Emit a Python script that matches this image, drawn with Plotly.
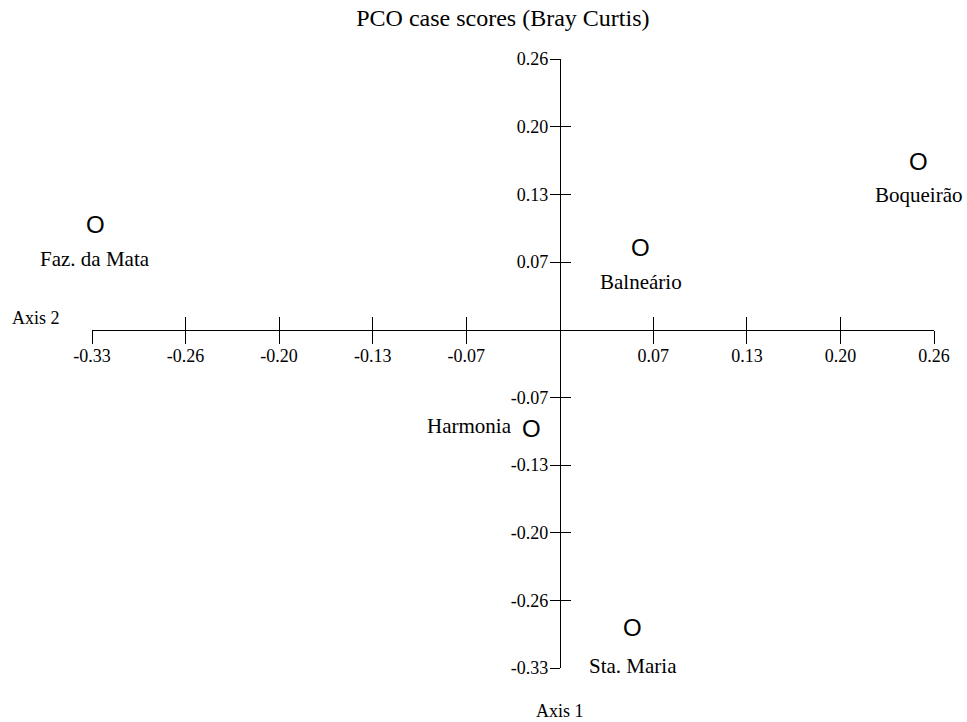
import plotly.graph_objects as go

# ---- data ----
sites = ["Faz. da Mata", "Boqueirão", "Balneário", "Harmonia", "Sta. Maria"]
x_scores = [-0.3252, 0.2508, 0.0566, -0.0197, 0.0510]
y_scores = [0.1046, 0.1659, 0.0820, -0.0928, -0.2856]

tick_step = 0.0655
tick_multiples = [-5, -4, -3, -2, -1, 1, 2, 3, 4]
tick_labels = ["-0.33", "-0.26", "-0.20", "-0.13", "-0.07", "0.07", "0.13", "0.20", "0.26"]
title_text = "PCO case scores (Bray Curtis)"
horizontal_axis_title = "Axis 2"
vertical_axis_title = "Axis 1"

# ---- derived ----
tick_values = [m * tick_step for m in tick_multiples]
axis_min = tick_multiples[0] * tick_step
axis_max = tick_multiples[-1] * tick_step
zero_frac = (0 - axis_min) / (axis_max - axis_min)

SERIF = "Liberation Serif"
tickfont = dict(family=SERIF, size=18, color="black")

fig = go.Figure()

# data points (carried by the trace; drawn as "O" glyphs below)
fig.add_trace(go.Scatter(
    x=x_scores, y=y_scores, mode="markers",
    marker=dict(size=16, opacity=0),
    cliponaxis=False, showlegend=False, hoverinfo="text", hovertext=sites,
))
# companion trace on the overlaid axes so the tick-crossing axes are drawn
fig.add_trace(go.Scatter(
    x=x_scores, y=y_scores, xaxis="x2", yaxis="y2", mode="markers",
    marker=dict(opacity=0), showlegend=False, hoverinfo="skip",
))

for name, xv, yv in zip(sites, x_scores, y_scores):
    # open "O" glyph marking the point
    fig.add_annotation(x=xv, y=yv, text="O", showarrow=False,
                       xanchor="center", yanchor="middle", yshift=-3,
                       font=dict(family="Liberation Sans", size=24, color="black"))
    # site label
    if name == "Harmonia":
        fig.add_annotation(x=xv, y=yv, text=name, showarrow=False,
                           xanchor="right", yanchor="middle", xshift=-18, yshift=0,
                           font=dict(family=SERIF, size=21, color="black"))
    else:
        shift = -41 if name == "Sta. Maria" else -37
        fig.add_annotation(x=xv, y=yv, text=name, showarrow=False,
                           xanchor="center", yanchor="middle", yshift=shift,
                           font=dict(family=SERIF, size=21, color="black"))

common = dict(range=[axis_min, axis_max], domain=[0, 1], anchor="free",
              position=zero_frac, showgrid=False, zeroline=False,
              tickvals=tick_values, tickcolor="black", tickwidth=1)

fig.update_layout(
    width=967, height=722,
    margin=dict(l=92, r=33, t=59, b=54),
    paper_bgcolor="white", plot_bgcolor="white",
    font=dict(family=SERIF, color="black"),
    title=dict(text=title_text, x=0.52, xanchor="center", y=0.975, yanchor="middle",
               font=dict(family=SERIF, size=24, color="black")),
    xaxis=dict(**common, ticks="outside", ticklen=13, showline=True,
               linecolor="black", linewidth=1, ticktext=tick_labels, tickfont=tickfont,
               ticklabelstandoff=-3),
    xaxis2=dict(**common, overlaying="x", ticks="inside", ticklen=13,
                showline=False, showticklabels=False),
    yaxis=dict(**common, ticks="outside", ticklen=10,
               showline=True, linecolor="black", linewidth=1,
               ticktext=tick_labels, tickfont=tickfont, ticklabelstandoff=-2),
    yaxis2=dict(**common, overlaying="y", ticks="inside", ticklen=10,
                showline=False, showticklabels=False),
    showlegend=False,
)

fig.add_annotation(xref="paper", yref="paper", x=(36 - 92) / 842, y=(668 - 318) / 609,
                   text=horizontal_axis_title, showarrow=False, xanchor="center",
                   yanchor="middle", font=dict(family=SERIF, size=18, color="black"))
fig.add_annotation(xref="paper", yref="paper", x=zero_frac, y=(668 - 711) / 609,
                   text=vertical_axis_title, showarrow=False, xanchor="center",
                   yanchor="middle", font=dict(family=SERIF, size=18, color="black"))

fig.write_html("out.html", config={"displayModeBar": False},
               post_script="document.body.style.margin='0';")
